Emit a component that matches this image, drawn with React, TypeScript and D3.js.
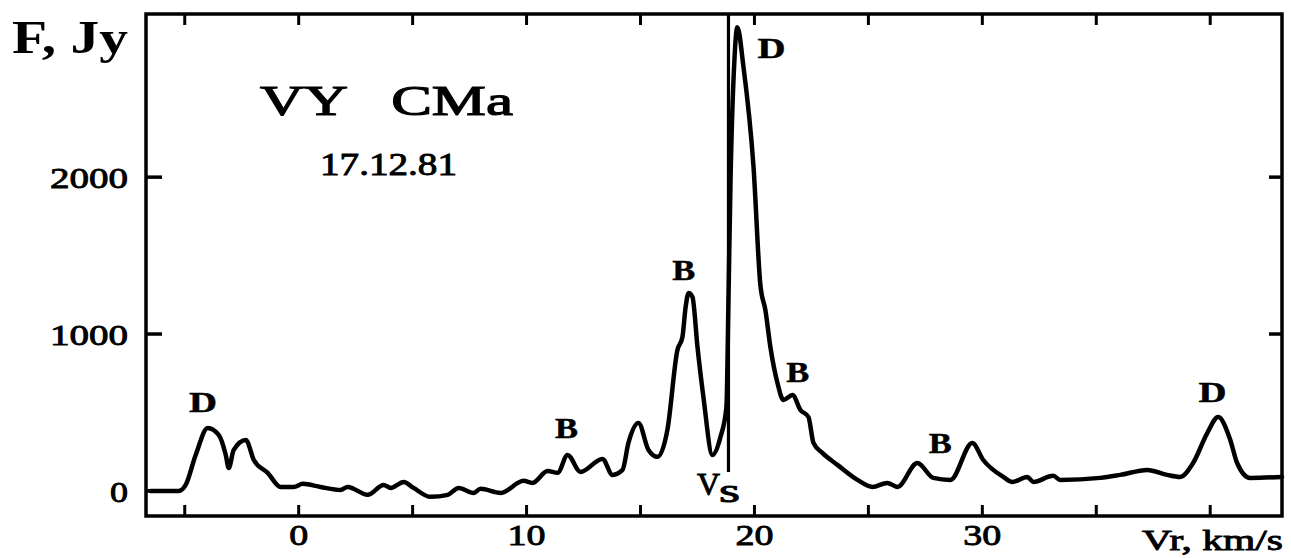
import React from 'react';
import * as d3 from 'd3';

// radial velocity, km/s
const velocity = [-6.5, -5.26, -4.96, -4.52, -3.99, -3.51, -3.2, -3.07, -2.85, -2.32, -1.97, -1.36, -0.79, -0.22, 0.18, 0.96, 1.84, 2.15, 3.03, 3.73, 4.04, 4.61, 5.04, 5.79, 6.54, 7.02, 7.68, 7.98, 8.86, 9.87, 10.26, 10.92, 11.36, 11.8, 12.37, 13.33, 13.77, 14.21, 14.47, 14.91, 15.35, 15.75, 16.18, 16.62, 16.84, 16.98, 17.11, 17.28, 17.5, 17.76, 18.16, 18.51, 18.77, 18.86, 18.95, 19.12, 19.25, 19.52, 19.96, 20.26, 20.48, 20.7, 21.01, 21.27, 21.67, 22.02, 22.37, 22.59, 22.98, 23.64, 24.52, 25.18, 25.83, 26.27, 27.15, 27.85, 28.6, 29.56, 30.04, 30.92, 31.32, 31.97, 32.24, 33.11, 33.42, 35.18, 36.05, 37.24, 38.11, 38.68, 39.25, 39.87, 40.35, 40.88, 41.18, 41.75, 43.15];

// flux density, Jy
const flux = [0, 0, 38, 229, 401, 357, 229, 146, 261, 325, 197, 115, 25, 25, 45, 25, 6, 25, -25, 38, 19, 57, 19, -38, -25, 19, -13, 13, -13, 64, 51, 127, 115, 229, 121, 204, 102, 134, 306, 433, 261, 217, 389, 898, 981, 1172, 1261, 1236, 917, 599, 229, 344, 535, 1217, 1981, 2745, 2956, 2701, 2064, 1312, 1153, 917, 688, 580, 611, 516, 471, 306, 242, 166, 70, 25, 51, 25, 178, 83, 70, 306, 197, 89, 57, 89, 57, 96, 70, 83, 102, 134, 102, 89, 178, 369, 471, 325, 178, 83, 89];

const xTickMarks = [-5, 0, 5, 10, 15, 20, 25, 30, 35, 40];
const xTickLabels = [0, 10, 20, 30];
const yTicks = [0, 1000, 2000];
const rightTicks = [1000, 2000];

// feature labels: text, velocity, flux at the label baseline
const peakText = ['D', 'B', 'B', 'D', 'B', 'B', 'D'];
const peakV = [-4.2, 11.75, 16.9, 20.75, 21.9, 28.15, 40.1];
const peakF = [503, 338, 1344, 2758, 694, 242, 567];

const systemicV = 18.86;
const systemicTop = 3040;
const systemicBottom = 120;

const W = 1291;
const H = 558;
const margin = { top: 14, right: 9, bottom: 42, left: 146 };
const serif = '"Liberation Serif", "Times New Roman", serif';
const heavy = { stroke: '#000', strokeWidth: 0.9 };

export default function App() {
  const x = d3.scaleLinear().domain([-6.7, 43.15]).range([margin.left, W - margin.right]);
  const y = d3.scaleLinear().domain([-160, 3040]).range([H - margin.bottom, margin.top]);

  const pts = velocity.map((v, i) => [v, flux[i]] as [number, number]);
  const line = d3.line<[number, number]>()
    .x(d => x(d[0]))
    .y(d => y(d[1]))
    .curve(d3.curveMonotoneX);

  const x0 = margin.left, x1 = W - margin.right;
  const y0 = margin.top, y1 = H - margin.bottom;

  return (
    <svg width={W} height={H} style={{ position: 'absolute', left: 0, top: 0, background: '#fff' }}>
      <rect x={x0} y={y0} width={x1 - x0} height={y1 - y0} fill="none" stroke="#000" strokeWidth={3.5} />

      {xTickMarks.map(t => (
        <g key={'xt' + t}>
          <line x1={x(t)} x2={x(t)} y1={y1} y2={y1 - 11} stroke="#000" strokeWidth={3} />
          <line x1={x(t)} x2={x(t)} y1={y0} y2={y0 + 11} stroke="#000" strokeWidth={3} />
        </g>
      ))}
      {yTicks.map(t => (
        <g key={'yt' + t}>
          <line x1={x0} x2={x0 + 16} y1={y(t)} y2={y(t)} stroke="#000" strokeWidth={3.5} />
          <text x={128} y={y(t) + 11} textAnchor="end" fontFamily={serif} fontSize={30} {...heavy}
            textLength={t === 0 ? 18 : 78} lengthAdjust="spacingAndGlyphs">{t}</text>
        </g>
      ))}
      {rightTicks.map(t => (
        <line key={'rt' + t} x1={x1} x2={x1 - 13} y1={y(t)} y2={y(t)} stroke="#000" strokeWidth={3.5} />
      ))}
      {xTickLabels.map(t => {
        const len = String(t).length * 19;
        return (
          <text key={'xl' + t} x={x(t) - len / 2} y={545} fontFamily={serif} fontSize={30} {...heavy}
            textLength={len} lengthAdjust="spacingAndGlyphs">{t}</text>
        );
      })}

      <path d={line(pts) || ''} fill="none" stroke="#000" strokeWidth={4.5} strokeLinejoin="round" strokeLinecap="round" />

      <line x1={x(systemicV)} x2={x(systemicV)} y1={y(systemicTop)} y2={y(systemicBottom)} stroke="#000" strokeWidth={3.2} />

      {peakText.map((t, i) => {
        const wd = t === 'D' ? 28 : 23;
        return (
          <text key={'p' + i} x={x(peakV[i]) - wd / 2} y={y(peakF[i])} fontFamily={serif} fontWeight="bold"
            fontSize={30} textLength={wd} lengthAdjust="spacingAndGlyphs" stroke="#000" strokeWidth={0.5}>{t}</text>
        );
      })}

      <text x={697} y={495} fontFamily={serif} fontSize={31} {...heavy} textLength={23} lengthAdjust="spacingAndGlyphs">V</text>
      <text x={719} y={502} fontFamily={serif} fontSize={33} {...heavy} textLength={21} lengthAdjust="spacingAndGlyphs">s</text>

      <text x={12} y={53} fontFamily={serif} fontWeight="bold" fontSize={47} textLength={116} lengthAdjust="spacingAndGlyphs">F, Jy</text>
      <text x={260} y={115} fontFamily={serif} fontSize={42} stroke="#000" strokeWidth={1.2} textLength={253} lengthAdjust="spacingAndGlyphs" style={{ whiteSpace: 'pre' }}>{'VY   CMa'}</text>
      <text x={320} y={175} fontFamily={serif} fontSize={32} {...heavy} textLength={137} lengthAdjust="spacingAndGlyphs">17.12.81</text>
      <text x={1142} y={550} fontFamily={serif} fontSize={30} {...heavy} textLength={141} lengthAdjust="spacingAndGlyphs">Vr, km/s</text>
    </svg>
  );
}
